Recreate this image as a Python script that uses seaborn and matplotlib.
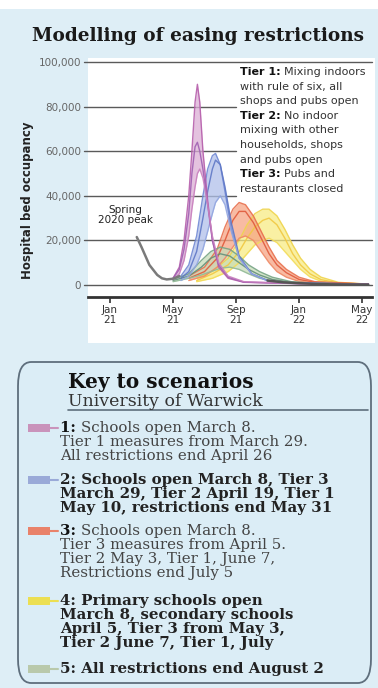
import numpy as np
import pandas as pd
import seaborn as sns
import matplotlib
matplotlib.use("Agg")
import matplotlib.pyplot as plt
from matplotlib.patches import FancyBboxPatch, Rectangle

# ---------------- data (months since Jan 1 2021, values in thousands) ----------
tick_pos = [0, 4, 8, 12, 16]
tick_labels = ["Jan\n21", "May\n21", "Sep\n21", "Jan\n22", "May\n22"]
ytick_vals = [0, 20000, 40000, 60000, 80000, 100000]
ytick_labels = ["0", "20,000", "40,000", "60,000", "80,000", "100,000"]

base_x = [1.7, 2.0, 2.5, 3.0, 3.3, 3.6, 4.0, 4.4]
base_y = [21.5, 17, 9, 4.5, 3.0, 2.5, 2.8, 4.0]
tail_x = [10.0, 11.0, 12.0, 13.0, 14.0, 16.4]
tail_y = [2.0, 1.2, 0.8, 0.5, 0.3, 0.2]

s1_x = [4.0, 4.4, 4.7, 5.0, 5.2, 5.4, 5.55, 5.7, 5.9, 6.2, 6.5, 6.9, 7.5, 8.5, 12.0, 16.4]
s1_hi = [3, 8, 20, 40, 60, 82, 90, 82, 60, 38, 20, 8, 3, 1.2, 0.6, 0.4]
s1_mid = [3, 7, 16, 32, 50, 62, 64, 60, 52, 36, 20, 9, 3.5, 1.3, 0.6, 0.4]
s1_lo = [2.5, 5, 11, 22, 34, 44, 50, 52, 48, 36, 22, 10, 4, 1.5, 0.7, 0.4]

s2_x = [4.5, 5.0, 5.5, 5.9, 6.2, 6.5, 6.7, 7.0, 7.3, 7.7, 8.2, 9.0, 10.0, 11.0, 16.4]
s2_hi = [4, 9, 22, 40, 52, 58, 59, 54, 42, 25, 12, 5, 2, 1, 0.4]
s2_mid = [3, 6, 15, 30, 42, 52, 56, 54, 44, 28, 13, 5, 2, 1, 0.4]
s2_lo = [2, 4, 9, 16, 24, 32, 37, 40, 36, 24, 12, 5, 1.8, 0.8, 0.4]

s3_x = [5.0, 6.0, 6.8, 7.3, 7.8, 8.2, 8.6, 9.1, 9.6, 10.1, 10.6, 11.2, 12.0, 13.0, 16.4]
s3_hi = [4, 8, 16, 26, 34, 37, 36, 31, 24, 17, 11, 7, 3.5, 1.5, 0.4]
s3_mid = [3, 6, 12, 20, 29, 33, 33, 28, 21, 14, 9, 5.5, 2.5, 1.2, 0.4]
s3_lo = [2, 4, 8, 12, 17, 21, 22, 20, 15, 10, 6, 3.5, 1.6, 0.8, 0.4]

s4_x = [5.5, 6.5, 7.5, 8.2, 8.7, 9.2, 9.7, 10.1, 10.6, 11.1, 11.6, 12.1, 12.7, 13.4, 14.5, 16.4]
s4_hi = [3, 6, 12, 20, 27, 32, 34, 34, 31, 25, 18, 12, 7, 3.5, 1.2, 0.4]
s4_mid = [2, 5, 9, 15, 21, 26, 29, 30, 27, 21, 14, 9, 5, 2.4, 0.9, 0.4]
s4_lo = [1.5, 3, 6, 10, 14, 18, 20, 21, 19, 15, 11, 7, 3.6, 1.7, 0.7, 0.3]

s5_x = [4.0, 5.0, 5.8, 6.4, 7.0, 7.6, 8.2, 8.8, 9.5, 10.3, 11.5, 13.0, 16.4]
s5_hi = [2.5, 5, 11, 15, 17, 16, 13, 9, 6, 3.5, 1.5, 0.8, 0.4]
s5_mid = [2, 4, 8, 12, 14, 13, 10, 7, 4.5, 2.5, 1.2, 0.6, 0.3]
s5_lo = [1.5, 3, 4.5, 6, 7.5, 8, 7, 5, 3, 1.8, 1.0, 0.5, 0.3]

scenarios = [
    # name, x, lo, mid, hi, fill colour, line colours
    ("4", s4_x, s4_lo, s4_mid, s4_hi, "#f8ec84", ["#efd44c", "#f1c842", "#f3dc5a"]),
    ("3", s3_x, s3_lo, s3_mid, s3_hi, "#f6a585", ["#e8704e", "#e05a3c", "#ef8a66"]),
    ("5", s5_x, s5_lo, s5_mid, s5_hi, "#c6dcb8", ["#76a484", "#64907a", "#92ba98"]),
    ("2", s2_x, s2_lo, s2_mid, s2_hi, "#b0c0ea", ["#7088d4", "#5f78c6", "#92a6e0"]),
    ("1", s1_x, s1_lo, s1_mid, s1_hi, "#dbaed5", ["#b65eab", "#a060b2", "#c980be"]),
]

legend_entries = [
    ("#c993bb", [("1: ", True, "Schools open March 8."), (None, False, "Tier 1 measures from March 29."),
                 (None, False, "All restrictions end April 26")], [428, 442, 456]),
    ("#9aaad8", [("", True, "2: Schools open March 8, Tier 3"), ("", True, "March 29, Tier 2 April 19, Tier 1"),
                 ("", True, "May 10, restrictions end May 31")], [480, 494, 508]),
    ("#e9826a", [("3: ", True, "Schools open March 8."), (None, False, "Tier 3 measures from April 5."),
                 (None, False, "Tier 2 May 3, Tier 1, June 7,"), (None, False, "Restrictions end July 5")],
     [531, 545, 559, 573]),
    ("#ecdf52", [("", True, "4: Primary schools open"), ("", True, "March 8, secondary schools"),
                 ("", True, "April 5, Tier 3 from May 3,"), ("", True, "Tier 2 June 7, Tier 1, July")],
     [601, 615, 629, 643]),
    ("#b9c9ab", [("", True, "5: All restrictions end August 2")], [669]),
]

# ---------------- figure ----------------
W, H = 378, 688
sns.set_theme(style="white")
plt.rcParams["font.family"] = ["DejaVu Sans"]
fig = plt.figure(figsize=(W / 100, H / 100), dpi=100)
BG = "#deeef6"
fig.patch.set_facecolor("white")


def fx(px):
    return px / W


def fy(py):
    return 1 - py / H


# background panels
fig.add_artist(Rectangle((0, 0), 1, fy(9), transform=fig.transFigure,
                         facecolor=BG, edgecolor="none", zorder=0))
fig.add_artist(Rectangle((fx(88), fy(343)), fx(375) - fx(88), fy(58) - fy(343), transform=fig.transFigure,
                         facecolor="white", edgecolor="none", zorder=0))

ax = fig.add_axes([fx(88), fy(297), fx(372) - fx(88), fy(58) - fy(297)])
ax.set_facecolor("none")
ax.set_xlim((88 - 110) / 15.75, (372 - 110) / 15.75)
ax.set_ylim(-(297 - 285) / 44.6 * 20000, (285 - 58) / 44.6 * 20000)

# gridlines
for v in ytick_vals:
    xmax = 0.52 if v in (40000, 60000, 80000) else 1.0
    ax.axhline(v, xmin=-0.015, xmax=xmax, color="#5a5a5a", lw=1.0, zorder=1, clip_on=False)

# scenario bands and lines
for name, xs, lo, mid, hi, fc, lcs in scenarios:
    xs = np.array(xs)
    lo_v = np.array(lo) * 1000
    mid_v = np.array(mid) * 1000
    hi_v = np.array(hi) * 1000
    ax.fill_between(xs, np.minimum(lo_v, hi_v), np.maximum(np.maximum(lo_v, hi_v), mid_v),
                    color=fc, alpha=0.75, lw=0, zorder=2)
    for vals, lc in zip([hi_v, mid_v, lo_v], lcs):
        df = pd.DataFrame({"m": xs, "v": vals})
        sns.lineplot(data=df, x="m", y="v", ax=ax, color=lc, lw=1.0, alpha=0.9, zorder=3)

df_base = pd.DataFrame({"m": base_x, "v": np.array(base_y) * 1000})
sns.lineplot(data=df_base, x="m", y="v", ax=ax, color="#7a7a7a", lw=1.8, zorder=4)
df_tail = pd.DataFrame({"m": tail_x, "v": np.array(tail_y) * 1000})
sns.lineplot(data=df_tail, x="m", y="v", ax=ax, color="#555555", lw=1.8, zorder=4)

# axes styling
for s in ["top", "right", "left"]:
    ax.spines[s].set_visible(False)
ax.spines["bottom"].set_color("#333333")
ax.spines["bottom"].set_linewidth(2.0)
ax.set_xticks(tick_pos)
ax.set_xticklabels(tick_labels, fontsize=7.5, color="#333333", linespacing=1.0)
ax.tick_params(axis="x", direction="out", length=4, width=1.2, color="#333333", pad=2, bottom=True)
ax.set_yticks(ytick_vals)
ax.set_yticklabels(ytick_labels, fontsize=7.5, color="#666666")
ax.tick_params(axis="y", length=0, pad=5)
ax.set_xlabel("")
ax.set_ylabel("")
ax.grid(False)

# texts in the chart
fig.text(fx(27), fy(200), "Hospital bed occupancy", rotation=90, ha="center", va="center",
         fontsize=8.5, fontweight="bold", color="#222222")
fig.text(fx(198), fy(36), "Modelling of easing restrictions", ha="center", va="center",
         fontsize=13.3, fontweight="bold", family="DejaVu Serif", color="#1a1a1a")
fig.text(fx(125), fy(215), "Spring\n2020 peak", ha="center", va="center", fontsize=7.5,
         color="#222222", linespacing=1.0)

renderer = fig.canvas.get_renderer()


def mixed_line(x_px, y_px, bold_part, rest, size, family, color_b, color_r, rest_bold=False):
    xx = fx(x_px)
    if bold_part:
        t = fig.text(xx, fy(y_px), bold_part, ha="left", va="center", fontsize=size,
                     fontweight="bold", family=family, color=color_b)
        bb = t.get_window_extent(renderer=renderer)
        xx = xx + bb.width / fig.bbox.width
    if rest:
        fig.text(xx, fy(y_px), rest, ha="left", va="center", fontsize=size,
                 fontweight="bold" if rest_bold else "normal", family=family, color=color_r)


tier_lines = [("Tier 1: ", "Mixing indoors"), (None, "with rule of six, all"), (None, "shops and pubs open"),
              ("Tier 2: ", "No indoor"), (None, "mixing with other"), (None, "households, shops"),
              (None, "and pubs open"), ("Tier 3: ", "Pubs and"), (None, "restaurants closed")]
for i, (b, r) in enumerate(tier_lines):
    mixed_line(240, 72 + i * 14.6, b, r, 8.0, "DejaVu Sans", "#111111", "#333333")

# ---------------- key box ----------------
fig.add_artist(FancyBboxPatch((fx(18), fy(683)), fx(371) - fx(18), fy(362) - fy(683),
                              boxstyle="round,pad=0,rounding_size=0.035", transform=fig.transFigure,
                              facecolor="#dbedf6", edgecolor="#5e6e7c", lw=1.3, zorder=1))
fig.text(fx(68), fy(382), "Key to scenarios", ha="left", va="center", fontsize=14.5,
         fontweight="bold", family="DejaVu Serif", color="#111111")
fig.text(fx(68), fy(401), "University of Warwick", ha="left", va="center", fontsize=12.5,
         family="DejaVu Serif", color="#333333")
fig.add_artist(plt.Line2D([fx(68), fx(368)], [fy(410), fy(410)], transform=fig.transFigure,
                          color="#5e6e7c", lw=1.2))

for col, lines, ys in legend_entries:
    y0 = ys[0]
    fig.add_artist(Rectangle((fx(28), fy(y0 + 4)), fx(50) - fx(28), fy(y0 - 4) - fy(y0 + 4),
                             transform=fig.transFigure, facecolor=col, edgecolor="none", zorder=2))
    fig.add_artist(plt.Line2D([fx(48), fx(58)], [fy(y0), fy(y0)], transform=fig.transFigure,
                              color=col, lw=1.5, zorder=2))
    for (b, rest_bold, txt), yy in zip(lines, ys):
        if b is None:
            mixed_line(60, yy, None, txt, 10.8, "DejaVu Serif", "#111111", "#444444")
        elif b == "":
            mixed_line(60, yy, None, txt, 10.8, "DejaVu Serif", "#111111", "#222222", rest_bold=True)
        else:
            mixed_line(60, yy, b, txt, 10.8, "DejaVu Serif", "#111111", "#444444")

fig.savefig("out.png", dpi=100, facecolor=fig.get_facecolor())
